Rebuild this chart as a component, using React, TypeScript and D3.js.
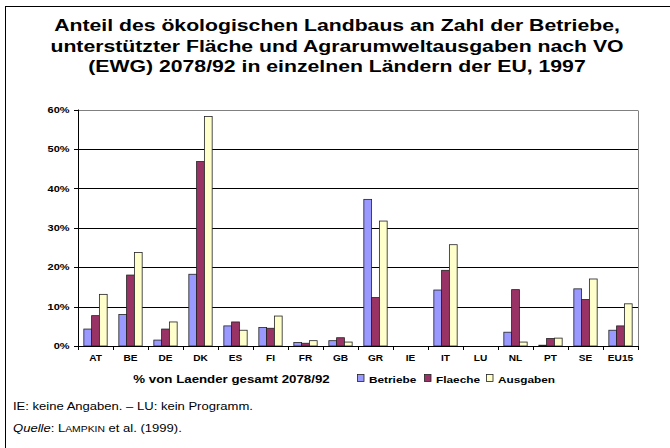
import React from "react";
import * as d3 from "d3";

const categories = ["AT", "BE", "DE", "DK", "ES", "FI", "FR", "GB", "GR", "IE", "IT", "LU", "NL", "PT", "SE", "EU15"];
const betriebe: (number | null)[] = [4.3, 8.0, 1.5, 18.2, 5.1, 4.7, 0.9, 1.35, 37.2, null, 14.2, null, 3.5, 0.2, 14.5, 4.0];
const flaeche: (number | null)[] = [7.7, 18.0, 4.3, 46.8, 6.1, 4.5, 0.7, 2.1, 12.3, null, 19.2, null, 14.3, 1.9, 11.8, 5.1];
const ausgaben: (number | null)[] = [13.1, 23.7, 6.1, 58.2, 4.0, 7.6, 1.35, 1.0, 31.7, null, 25.7, null, 1.0, 2.0, 17.0, 10.7];
const seriesNames = ["Betriebe", "Flaeche", "Ausgaben"];
const seriesColors = ["#9999FF", "#993366", "#FFFFCC"];
const yTicks = [0, 10, 20, 30, 40, 50, 60];
const titleLines = [
  "Anteil des ökologischen Landbaus an Zahl der Betriebe,",
  "unterstützter Fläche und Agrarumweltausgaben nach VO",
  "(EWG) 2078/92 in einzelnen Ländern der EU, 1997",
];

const SX = 1.22;

function T(props: { x: number; y: number; size: number; bold?: boolean; anchor?: string; children: React.ReactNode }) {
  const { x, y, size, bold, anchor, children } = props;
  return (
    <text transform={`translate(${x},${y}) scale(${SX},1)`} fontSize={size}
      fontWeight={bold ? "bold" : "normal"} textAnchor={anchor || "start"} fill="#000">
      {children}
    </text>
  );
}

export default function App() {
  const W = 670, H = 448;
  const left = 78, right = 638, top = 109.5, bottom = 346;
  const x = d3.scaleBand<string>().domain(categories).range([left, right]).paddingInner(0).paddingOuter(0);
  const y = d3.scaleLinear().domain([0, 60]).range([bottom, top]);
  const bw = x.bandwidth() / 4.5;
  const series = [betriebe, flaeche, ausgaben];
  const font = "'Liberation Sans', Arial, sans-serif";

  return (
    <svg width={W} height={H} style={{ position: "absolute", left: 0, top: 0, background: "#fff" }} fontFamily={font}>
      <rect x={0} y={0} width={W} height={H} fill="#fff" />
      <rect x={5.5} y={6.5} width={W + 10} height={H + 10} fill="none" stroke="#000" strokeWidth={1} />
      {titleLines.map((t, i) => (
        <T key={i} x={337} y={31 + i * 20.5} size={17.4} bold anchor="middle">{t}</T>
      ))}
      {/* gridlines */}
      {yTicks.filter((v) => v > 0).map((v) => (
        <line key={v} x1={left} x2={right} y1={Math.round(y(v)) + 0.5} y2={Math.round(y(v)) + 0.5}
          stroke={v === 60 ? "#808080" : "#000"} strokeWidth={1} />
      ))}
      <line x1={right + 0.5} x2={right + 0.5} y1={Math.round(y(60)) + 0.5} y2={bottom} stroke="#808080" />
      {/* bars */}
      {categories.map((c, ci) => (
        <g key={c}>
          {series.map((s, si) => {
            const v = s[ci];
            if (v === null) return null;
            const bx = (x(c) as number) + bw * 0.75 + si * bw;
            return (
              <rect key={si} x={bx} y={y(v)} width={bw} height={bottom - y(v)}
                fill={seriesColors[si]} stroke="#222" strokeWidth={0.8} />
            );
          })}
        </g>
      ))}
      {/* axes */}
      <line x1={left + 0.5} x2={left + 0.5} y1={top} y2={bottom} stroke="#000" />
      <line x1={left} x2={right} y1={bottom + 0.5} y2={bottom + 0.5} stroke="#000" />
      {yTicks.map((v) => (
        <g key={v}>
          <line x1={left - 4} x2={left} y1={Math.round(y(v)) + 0.5} y2={Math.round(y(v)) + 0.5} stroke="#000" />
          <T x={69.5} y={y(v) + 3.2} size={9} bold anchor="end">{v + "%"}</T>
        </g>
      ))}
      {categories.map((c, i) => (
        <line key={"t" + i} x1={Math.round(x(c) as number) + 0.5} x2={Math.round(x(c) as number) + 0.5}
          y1={bottom} y2={bottom + 4} stroke="#000" />
      ))}
      <line x1={right + 0.5} x2={right + 0.5} y1={bottom} y2={bottom + 4} stroke="#000" />
      {categories.map((c) => (
        <T key={"l" + c} x={(x(c) as number) + x.bandwidth() / 2} y={361} size={8.3} bold anchor="middle">{c}</T>
      ))}
      <T x={231.5} y={382.5} size={10.9} bold anchor="middle">% von Laender gesamt 2078/92</T>
      {/* legend */}
      {seriesNames.map((n, i) => {
        const lx = [357, 424, 486][i];
        return (
          <g key={n}>
            <rect x={lx + 0.5} y={374.5} width={6.5} height={7} fill={seriesColors[i]} stroke="#222" strokeWidth={0.8} />
            <T x={lx + 12} y={382.5} size={9.7} bold>{n}</T>
          </g>
        );
      })}
      <T x={13} y={410} size={10.7}>IE: keine Angaben. – LU: kein Programm.</T>
      <T x={13} y={432} size={10.7}>
        <tspan fontStyle="italic">Quelle</tspan>
        <tspan>: L</tspan>
        <tspan fontSize={8.5}>AMPKIN</tspan>
        <tspan> et al. (1999).</tspan>
      </T>
    </svg>
  );
}
